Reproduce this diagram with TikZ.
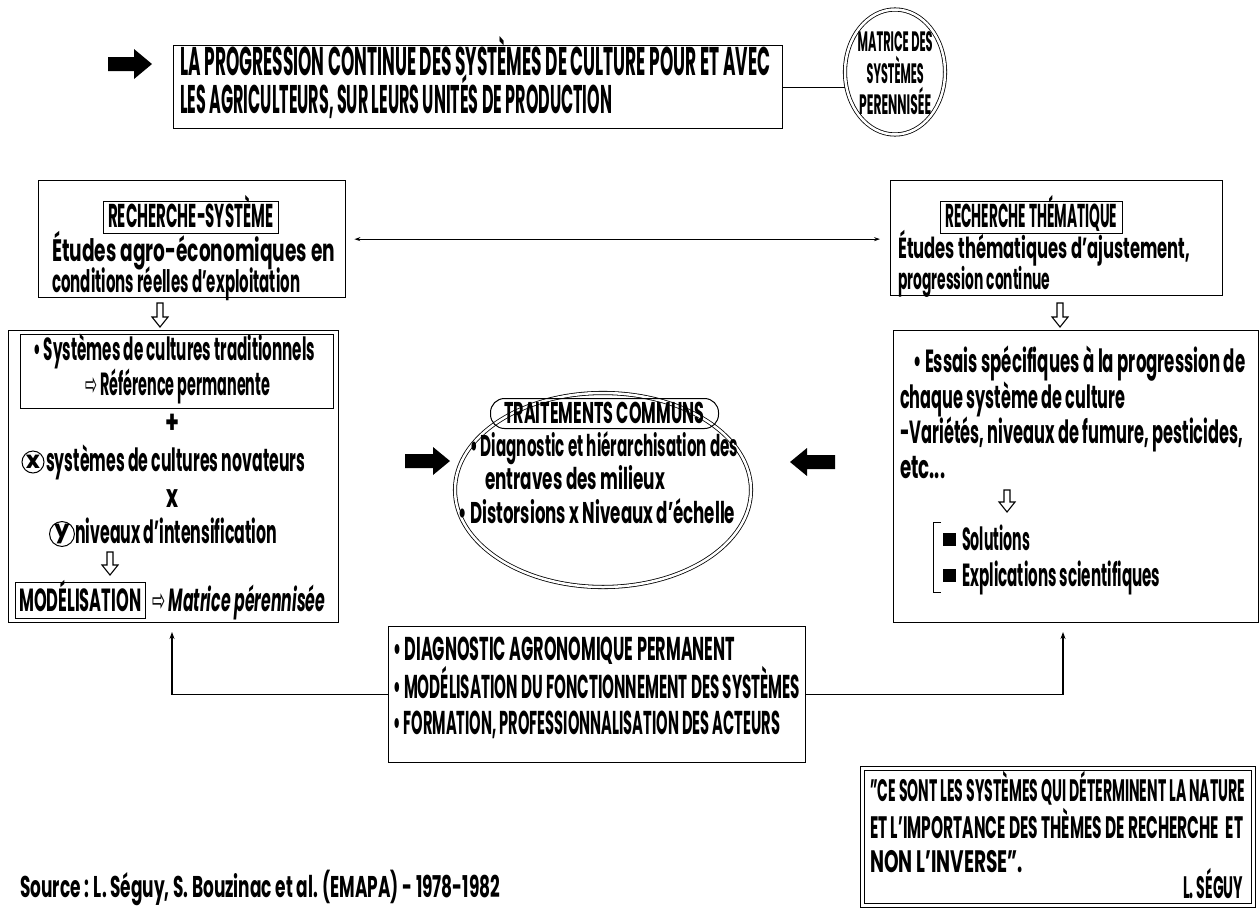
\documentclass[tikz,border=0pt]{standalone}
\usepackage{fontspec}
\setmainfont{Poppins}
\newfontfamily\dvs{DejaVu Sans}
\usetikzlibrary{calc,arrows.meta,shapes.geometric}
\newsavebox\tbx
\newlength\tbxw
\newcommand\fitto[2]{\sbox\tbx{#2}\setlength\tbxw{\wd\tbx}\pgfmathsetmacro\fr{(#1)/\the\tbxw}\scalebox{\fr}[1]{\usebox\tbx}}
\newcommand\tl[6]{\node[txt] (#1) at (#2,#3) {\fontsize{#5}{#5}\selectfont\fitto{#4}{#6}};}
\newcommand\rbox[5]{\node[box, anchor=north west, minimum width={(#4-#2)*1pt}, minimum height={(#5-#3)*1pt}] (#1) at (#2,#3) {};}
\newcommand\hdown[3]{\draw[line width=1.1pt, line join=miter] (#1-3,#2) -- (#1+3,#2) -- (#1+3,#3-10) -- (#1+8,#3-10) -- (#1,#3) -- (#1-8,#3-10) -- (#1-3,#3-10) -- cycle;}
\tikzset{
  txt/.style={inner sep=0pt, anchor=base west, font=\bfseries},
  box/.style={draw, line width=1.3pt, inner sep=0pt},
  conn/.style={line width=1.1pt, -{Stealth[length=7pt,width=5pt]}},
}
\begin{document}
\begin{tikzpicture}[x=1pt,y=-1pt]
\useasboundingbox (0,0) rectangle (1260,908);

% top row
\fill (108,57) -- (134,57) -- (134,49) -- (152,64) -- (134,79) -- (134,71) -- (108,71) -- cycle;
\rbox{top}{173}{45}{782}{128}
\tl{t1}{180}{75}{590}{40}{LA PROGRESSION CONTINUE DES SYSTÈMES DE CULTURE POUR ET AVEC}
\tl{t2}{180}{113}{432}{40}{LES AGRICULTEURS, SUR LEURS UNITÉS DE PRODUCTION}
\node[draw, ellipse, double, double distance=2.5pt, line width=0.8pt, minimum width=100pt, minimum height=125pt, inner sep=0pt] (mx) at (895,72) {};
\tl{m1}{857.5}{51}{75}{28}{MATRICE DES}
\tl{m2}{866.5}{83}{57}{28}{SYSTÈMES}
\tl{m3}{859}{114}{72}{28}{PERENNISÉE}
\draw[line width=1.1pt] (top.east) -- (top.east -| mx.west);

% recherche-systeme
\rbox{rs}{38}{180}{345}{297}
\rbox{rsl}{103}{201}{278}{233}
\tl{rs1}{108}{227.5}{165}{33}{RECHERCHE-SYSTÈME}
\tl{rs2}{52}{261}{283}{31}{Études agro-économiques en}
\tl{rs3}{52}{292}{248}{31}{conditions réelles d’exploitation}

% recherche thematique
\rbox{rt}{890}{180}{1222}{295}
\rbox{rtl}{940}{201}{1122}{233}
\tl{rt1}{945}{227.5}{172}{33}{RECHERCHE THÉMATIQUE}
\tl{rt2}{898}{258}{292}{29}{Études thématiques d’ajustement,}
\tl{rt3}{898}{289}{152}{29}{progression continue}

\draw[line width=1pt, {Stealth[length=6pt,width=4pt]}-{Stealth[length=6pt,width=4pt]}] ([xshift=8pt]rs.east) -- ([xshift=-10pt]rs.east -| rt.west);

\hdown{160}{303}{327}
\hdown{1060}{303}{327}

% left lower box
\rbox{lb}{8}{330}{338}{622}
\rbox{lbi}{20}{334}{333}{408}
\tl{l1}{33}{360}{282}{32}{• Systèmes de cultures traditionnels}
\tl{l2}{85}{395}{185}{32}{{\dvs\mdseries ⇨} Référence permanente}
\tl{l3}{165}{433}{14}{32}{+}
\node[draw, circle, line width=1pt, inner sep=0pt, minimum size=22pt, font=\bfseries\fontsize{24}{24}\selectfont] (cx) at (33,462) {x};
\tl{l4}{46}{471}{259}{32}{systèmes de cultures novateurs}
\tl{l5}{166}{507}{12}{32}{x}
\node[draw, circle, line width=1pt, inner sep=0pt, minimum size=22pt, font=\bfseries\fontsize{24}{24}\selectfont] (cy) at (62,534) {y};
\tl{l6}{75}{543}{202}{32}{niveaux d’intensification}
\hdown{110}{552}{575}
\rbox{mod}{15}{582}{145}{618}
\tl{l7}{19}{611}{122}{32}{MODÉLISATION}
\tl{l8}{152}{611}{173}{32}{{\dvs\mdseries ⇨} \itshape Matrice pérennisée}

% centre
\fill (405,454) -- (433,454) -- (433,447) -- (450,461) -- (433,475) -- (433,468) -- (405,468) -- cycle;
\fill (835,455) -- (807,455) -- (807,448) -- (790,462) -- (807,476) -- (807,469) -- (835,469) -- cycle;
\node[draw, ellipse, double, double distance=2.5pt, line width=0.8pt, minimum width=296pt, minimum height=194pt, inner sep=0pt] (ce) at (603,490) {};
\node[draw, rounded corners=14pt, line width=1pt, minimum width=228pt, minimum height=30pt, anchor=north west, inner sep=0pt] (tc) at (490,398) {};
\tl{c1}{504}{423}{200}{30}{TRAITEMENTS COMMUNS}
\tl{c2}{470}{456}{268}{30}{• Diagnostic et hiérarchisation des}
\tl{c3}{485}{489}{180}{30}{entraves des milieux}
\tl{c4}{458}{523}{277}{30}{• Distorsions x Niveaux d’échelle}

% right lower box
\rbox{rb}{893}{330}{1258}{622}
\tl{r1}{913}{372}{332}{32}{• Essais spécifiques à la progression de}
\tl{r2}{900}{408}{225}{32}{chaque système de culture}
\tl{r3}{900}{443}{343}{32}{-Variétés, niveaux de fumure, pesticides,}
\tl{r4}{900}{478}{45}{32}{etc...}
\hdown{1007}{490}{512}
\draw[line width=1pt] (941,522) -- (933,522) -- (933,592) -- (941,592);
\fill (943,533) rectangle (956,546);
\fill (943,569) rectangle (956,582);
\tl{r5}{962}{550}{68}{32}{Solutions}
\tl{r6}{962}{586}{198}{32}{Explications scientifiques}

% bottom box
\rbox{bb}{388}{626}{805}{762}
\tl{b1}{393}{660}{342}{33}{• DIAGNOSTIC AGRONOMIQUE PERMANENT}
\tl{b2}{393}{698}{407}{33}{• MODÉLISATION DU FONCTIONNEMENT DES SYSTÈMES}
\tl{b3}{393}{734}{387}{33}{• FORMATION, PROFESSIONNALISATION DES ACTEURS}
\coordinate (la) at (172,632);
\coordinate (ra) at (1063,632);
\draw[conn] (bb.west) -| (la);
\draw[conn] (bb.east) -| (ra);

% quote
\node[draw, double, double distance=2.5pt, line width=0.9pt, anchor=north west, minimum width=391pt, minimum height=137pt, inner sep=0pt] (qb) at (862,768) {};
\tl{q1}{870}{801}{375}{31}{"CE SONT LES SYSTÈMES QUI DÉTERMINENT LA NATURE}
\tl{q2}{870}{838}{373}{31}{ET L’IMPORTANCE DES THÈMES DE RECHERCHE \ ET}
\tl{q3}{870}{872}{153}{31}{NON L’INVERSE".}
\tl{q4}{1183}{898}{60}{31}{L. SÉGUY}

% source
\tl{src}{20}{897}{480}{30}{Source : L. Séguy, S. Bouzinac et al. (EMAPA) - 1978-1982}
\end{tikzpicture}
\end{document}
